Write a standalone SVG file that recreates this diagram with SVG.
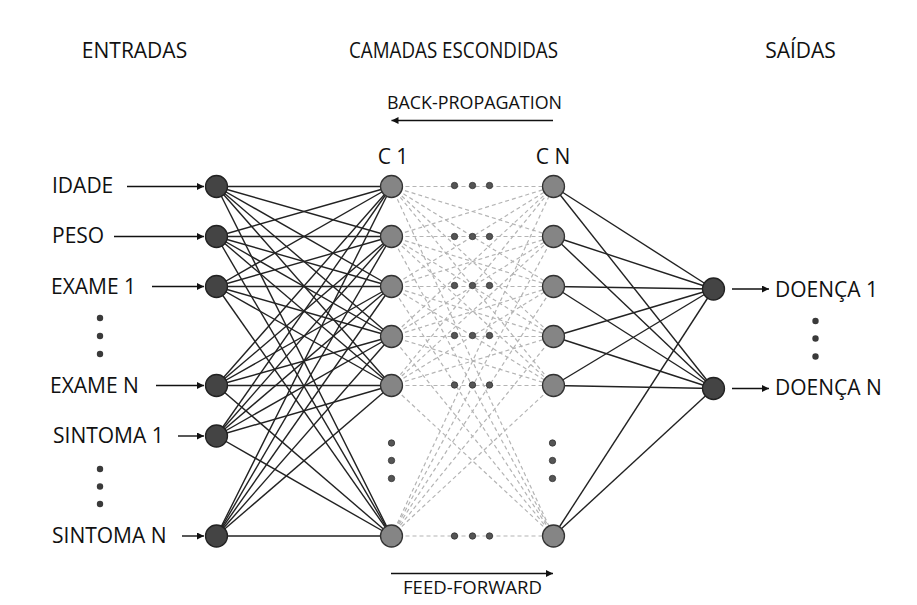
<svg xmlns="http://www.w3.org/2000/svg" width="917" height="605" viewBox="0 0 917 605">
  <defs>
    <marker id="arrow" viewBox="0 0 10 10" refX="10" refY="5" markerWidth="9" markerHeight="7" markerUnits="userSpaceOnUse" orient="auto">
      <path d="M0,0 L10,5 L0,10 z" fill="#111"/>
    </marker>
  </defs>
  <style>
    text { font-family: "Open Sans", "Liberation Sans", sans-serif; fill: #111; }
    .lbl { font-size: 21px; }
    .small { font-size: 18px; }
    .mid { text-anchor: middle; }
    .solid line { stroke: #222; stroke-width: 1.4; }
    .dashed line { stroke: #b4b4b4; stroke-width: 1.2; stroke-dasharray: 4 3; }
    .arr { stroke: #111; stroke-width: 1.4; marker-end: url(#arrow); }
    .in { fill: #444; stroke: #222; stroke-width: 1.3; }
    .hid { fill: #858585; stroke: #333; stroke-width: 1.3; }
    .dot { fill: #555; stroke: #333; stroke-width: 0.8; }
    .bdot { fill: #3a3a3a; }
  </style>
  <rect width="917" height="605" fill="#fff"/>

  <!-- column headings -->
  <text class="lbl mid" x="134.5" y="58">ENTRADAS</text>
  <text class="lbl mid" x="453.5" y="58" textLength="209" lengthAdjust="spacingAndGlyphs">CAMADAS ESCONDIDAS</text>
  <text class="lbl mid" x="800.5" y="58">SAÍDAS</text>

  <!-- training direction -->
  <text class="small mid" x="474.5" y="109" textLength="175" lengthAdjust="spacingAndGlyphs">BACK-PROPAGATION</text>
  <line class="arr" x1="553" y1="120.5" x2="391.5" y2="120.5"/>
  <text class="small mid" x="472.5" y="594" textLength="139" lengthAdjust="spacingAndGlyphs">FEED-FORWARD</text>
  <line class="arr" x1="391" y1="573.5" x2="553" y2="573.5"/>

  <text class="lbl mid" x="393" y="164">C 1</text>
  <text class="lbl mid" x="553" y="164">C N</text>

  <!-- connectors -->
  <g id="connectors">
    <g class="solid" id="input-to-c1">
      <line x1="216.5" y1="186.5" x2="391.5" y2="186.5"/><line x1="216.5" y1="186.5" x2="391.5" y2="236.5"/><line x1="216.5" y1="186.5" x2="391.5" y2="286.5"/><line x1="216.5" y1="186.5" x2="391.5" y2="336.5"/><line x1="216.5" y1="186.5" x2="391.5" y2="385.5"/><line x1="216.5" y1="186.5" x2="391.5" y2="536"/>
      <line x1="216.5" y1="236.5" x2="391.5" y2="186.5"/><line x1="216.5" y1="236.5" x2="391.5" y2="236.5"/><line x1="216.5" y1="236.5" x2="391.5" y2="286.5"/><line x1="216.5" y1="236.5" x2="391.5" y2="336.5"/><line x1="216.5" y1="236.5" x2="391.5" y2="385.5"/><line x1="216.5" y1="236.5" x2="391.5" y2="536"/>
      <line x1="216.5" y1="286.5" x2="391.5" y2="186.5"/><line x1="216.5" y1="286.5" x2="391.5" y2="236.5"/><line x1="216.5" y1="286.5" x2="391.5" y2="286.5"/><line x1="216.5" y1="286.5" x2="391.5" y2="336.5"/><line x1="216.5" y1="286.5" x2="391.5" y2="385.5"/><line x1="216.5" y1="286.5" x2="391.5" y2="536"/>
      <line x1="216.5" y1="385.5" x2="391.5" y2="186.5"/><line x1="216.5" y1="385.5" x2="391.5" y2="236.5"/><line x1="216.5" y1="385.5" x2="391.5" y2="286.5"/><line x1="216.5" y1="385.5" x2="391.5" y2="336.5"/><line x1="216.5" y1="385.5" x2="391.5" y2="385.5"/><line x1="216.5" y1="385.5" x2="391.5" y2="536"/>
      <line x1="216.5" y1="436" x2="391.5" y2="186.5"/><line x1="216.5" y1="436" x2="391.5" y2="236.5"/><line x1="216.5" y1="436" x2="391.5" y2="286.5"/><line x1="216.5" y1="436" x2="391.5" y2="336.5"/><line x1="216.5" y1="436" x2="391.5" y2="385.5"/><line x1="216.5" y1="436" x2="391.5" y2="536"/>
      <line x1="216.5" y1="536" x2="391.5" y2="186.5"/><line x1="216.5" y1="536" x2="391.5" y2="236.5"/><line x1="216.5" y1="536" x2="391.5" y2="286.5"/><line x1="216.5" y1="536" x2="391.5" y2="336.5"/><line x1="216.5" y1="536" x2="391.5" y2="385.5"/><line x1="216.5" y1="536" x2="391.5" y2="536"/>
    </g>
    <g class="dashed" id="c1-to-cn">
      <line x1="391.5" y1="186.5" x2="553.5" y2="186.5"/><line x1="391.5" y1="186.5" x2="553.5" y2="236.5"/><line x1="391.5" y1="186.5" x2="553.5" y2="286.5"/><line x1="391.5" y1="186.5" x2="553.5" y2="336.5"/><line x1="391.5" y1="186.5" x2="553.5" y2="385.5"/><line x1="391.5" y1="186.5" x2="553.5" y2="536"/>
      <line x1="391.5" y1="236.5" x2="553.5" y2="186.5"/><line x1="391.5" y1="236.5" x2="553.5" y2="236.5"/><line x1="391.5" y1="236.5" x2="553.5" y2="286.5"/><line x1="391.5" y1="236.5" x2="553.5" y2="336.5"/><line x1="391.5" y1="236.5" x2="553.5" y2="385.5"/><line x1="391.5" y1="236.5" x2="553.5" y2="536"/>
      <line x1="391.5" y1="286.5" x2="553.5" y2="186.5"/><line x1="391.5" y1="286.5" x2="553.5" y2="236.5"/><line x1="391.5" y1="286.5" x2="553.5" y2="286.5"/><line x1="391.5" y1="286.5" x2="553.5" y2="336.5"/><line x1="391.5" y1="286.5" x2="553.5" y2="385.5"/><line x1="391.5" y1="286.5" x2="553.5" y2="536"/>
      <line x1="391.5" y1="336.5" x2="553.5" y2="186.5"/><line x1="391.5" y1="336.5" x2="553.5" y2="236.5"/><line x1="391.5" y1="336.5" x2="553.5" y2="286.5"/><line x1="391.5" y1="336.5" x2="553.5" y2="336.5"/><line x1="391.5" y1="336.5" x2="553.5" y2="385.5"/><line x1="391.5" y1="336.5" x2="553.5" y2="536"/>
      <line x1="391.5" y1="385.5" x2="553.5" y2="186.5"/><line x1="391.5" y1="385.5" x2="553.5" y2="236.5"/><line x1="391.5" y1="385.5" x2="553.5" y2="286.5"/><line x1="391.5" y1="385.5" x2="553.5" y2="336.5"/><line x1="391.5" y1="385.5" x2="553.5" y2="385.5"/><line x1="391.5" y1="385.5" x2="553.5" y2="536"/>
      <line x1="391.5" y1="536" x2="553.5" y2="186.5"/><line x1="391.5" y1="536" x2="553.5" y2="236.5"/><line x1="391.5" y1="536" x2="553.5" y2="286.5"/><line x1="391.5" y1="536" x2="553.5" y2="336.5"/><line x1="391.5" y1="536" x2="553.5" y2="385.5"/><line x1="391.5" y1="536" x2="553.5" y2="536"/>
    </g>
    <g class="solid" id="cn-to-output">
      <line x1="553.5" y1="186.5" x2="713.5" y2="289"/><line x1="553.5" y1="186.5" x2="713.5" y2="388.5"/>
      <line x1="553.5" y1="236.5" x2="713.5" y2="289"/><line x1="553.5" y1="236.5" x2="713.5" y2="388.5"/>
      <line x1="553.5" y1="286.5" x2="713.5" y2="289"/><line x1="553.5" y1="286.5" x2="713.5" y2="388.5"/>
      <line x1="553.5" y1="336.5" x2="713.5" y2="289"/><line x1="553.5" y1="336.5" x2="713.5" y2="388.5"/>
      <line x1="553.5" y1="385.5" x2="713.5" y2="289"/><line x1="553.5" y1="385.5" x2="713.5" y2="388.5"/>
      <line x1="553.5" y1="536" x2="713.5" y2="289"/><line x1="553.5" y1="536" x2="713.5" y2="388.5"/>
    </g>
    <g id="input-arrows">
      <line class="arr" x1="127" y1="186.5" x2="204" y2="186.5"/>
      <line class="arr" x1="114" y1="236.5" x2="204" y2="236.5"/>
      <line class="arr" x1="152" y1="286.5" x2="204" y2="286.5"/>
      <line class="arr" x1="156" y1="385.5" x2="204" y2="385.5"/>
      <line class="arr" x1="178" y1="436" x2="204" y2="436"/>
      <line class="arr" x1="182" y1="536" x2="204" y2="536"/>
    </g>
    <g id="output-arrows">
      <line class="arr" x1="732" y1="289" x2="769" y2="289"/>
      <line class="arr" x1="732" y1="388.5" x2="769" y2="388.5"/>
    </g>
  </g>

  <!-- input layer -->
  <g id="in-idade"><circle class="in" cx="216.5" cy="186.5" r="11"/><text class="lbl" x="52" y="193">IDADE</text></g>
  <g id="in-peso"><circle class="in" cx="216.5" cy="236.5" r="11"/><text class="lbl" x="52" y="243">PESO</text></g>
  <g id="in-exame1"><circle class="in" cx="216.5" cy="286.5" r="11"/><text class="lbl" x="51" y="294">EXAME 1</text></g>
  <g id="in-dots1"><circle class="bdot" cx="100" cy="318" r="3.2"/><circle class="bdot" cx="100" cy="336" r="3.2"/><circle class="bdot" cx="100" cy="354" r="3.2"/></g>
  <g id="in-examen"><circle class="in" cx="216.5" cy="385.5" r="11"/><text class="lbl" x="50" y="393">EXAME N</text></g>
  <g id="in-sintoma1"><circle class="in" cx="216.5" cy="436" r="11"/><text class="lbl" x="53" y="443">SINTOMA 1</text></g>
  <g id="in-dots2"><circle class="bdot" cx="100" cy="469" r="3.2"/><circle class="bdot" cx="100" cy="486.5" r="3.2"/><circle class="bdot" cx="100" cy="504" r="3.2"/></g>
  <g id="in-sintoman"><circle class="in" cx="216.5" cy="536" r="11"/><text class="lbl" x="52" y="543">SINTOMA N</text></g>

  <!-- first hidden layer -->
  <g id="c1-1"><circle class="hid" cx="391.5" cy="186.5" r="11"/></g>
  <g id="c1-2"><circle class="hid" cx="391.5" cy="236.5" r="11"/></g>
  <g id="c1-3"><circle class="hid" cx="391.5" cy="286.5" r="11"/></g>
  <g id="c1-4"><circle class="hid" cx="391.5" cy="336.5" r="11"/></g>
  <g id="c1-5"><circle class="hid" cx="391.5" cy="385.5" r="11"/></g>
  <g id="c1-dots"><circle class="dot" cx="391.5" cy="443" r="3.2"/><circle class="dot" cx="391.5" cy="460.5" r="3.2"/><circle class="dot" cx="391.5" cy="478.5" r="3.2"/></g>
  <g id="c1-n"><circle class="hid" cx="391.5" cy="536" r="11"/></g>

  <!-- layers between C1 and CN -->
  <g id="between-dots">
    <circle class="dot" cx="454.5" cy="185.5" r="3.2"/><circle class="dot" cx="472.5" cy="185.5" r="3.2"/><circle class="dot" cx="489.5" cy="185.5" r="3.2"/>
    <circle class="dot" cx="454.5" cy="236.5" r="3.2"/><circle class="dot" cx="472.5" cy="236.5" r="3.2"/><circle class="dot" cx="489.5" cy="236.5" r="3.2"/>
    <circle class="dot" cx="454.5" cy="285.5" r="3.2"/><circle class="dot" cx="472.5" cy="285.5" r="3.2"/><circle class="dot" cx="489.5" cy="285.5" r="3.2"/>
    <circle class="dot" cx="454.5" cy="335.5" r="3.2"/><circle class="dot" cx="472.5" cy="335.5" r="3.2"/><circle class="dot" cx="489.5" cy="335.5" r="3.2"/>
    <circle class="dot" cx="454.5" cy="385" r="3.2"/><circle class="dot" cx="472.5" cy="385" r="3.2"/><circle class="dot" cx="489.5" cy="385" r="3.2"/>
    <circle class="dot" cx="454.5" cy="536" r="3.2"/><circle class="dot" cx="472.5" cy="536" r="3.2"/><circle class="dot" cx="489.5" cy="536" r="3.2"/>
  </g>

  <!-- last hidden layer -->
  <g id="cn-1"><circle class="hid" cx="553.5" cy="186.5" r="11"/></g>
  <g id="cn-2"><circle class="hid" cx="553.5" cy="236.5" r="11"/></g>
  <g id="cn-3"><circle class="hid" cx="553.5" cy="286.5" r="11"/></g>
  <g id="cn-4"><circle class="hid" cx="553.5" cy="336.5" r="11"/></g>
  <g id="cn-5"><circle class="hid" cx="553.5" cy="385.5" r="11"/></g>
  <g id="cn-dots"><circle class="dot" cx="552.5" cy="443" r="3.2"/><circle class="dot" cx="552.5" cy="460.5" r="3.2"/><circle class="dot" cx="552.5" cy="478.5" r="3.2"/></g>
  <g id="cn-n"><circle class="hid" cx="553.5" cy="536" r="11"/></g>

  <!-- output layer -->
  <g id="out-doenca1"><circle class="in" cx="713.5" cy="289" r="11"/><text class="lbl" x="775" y="297">DOENÇA 1</text></g>
  <g id="out-dots"><circle class="bdot" cx="815.5" cy="321" r="3.2"/><circle class="bdot" cx="815.5" cy="338.5" r="3.2"/><circle class="bdot" cx="815.5" cy="356.5" r="3.2"/></g>
  <g id="out-doencan"><circle class="in" cx="713.5" cy="388.5" r="11"/><text class="lbl" x="775" y="395">DOENÇA N</text></g>
</svg>
